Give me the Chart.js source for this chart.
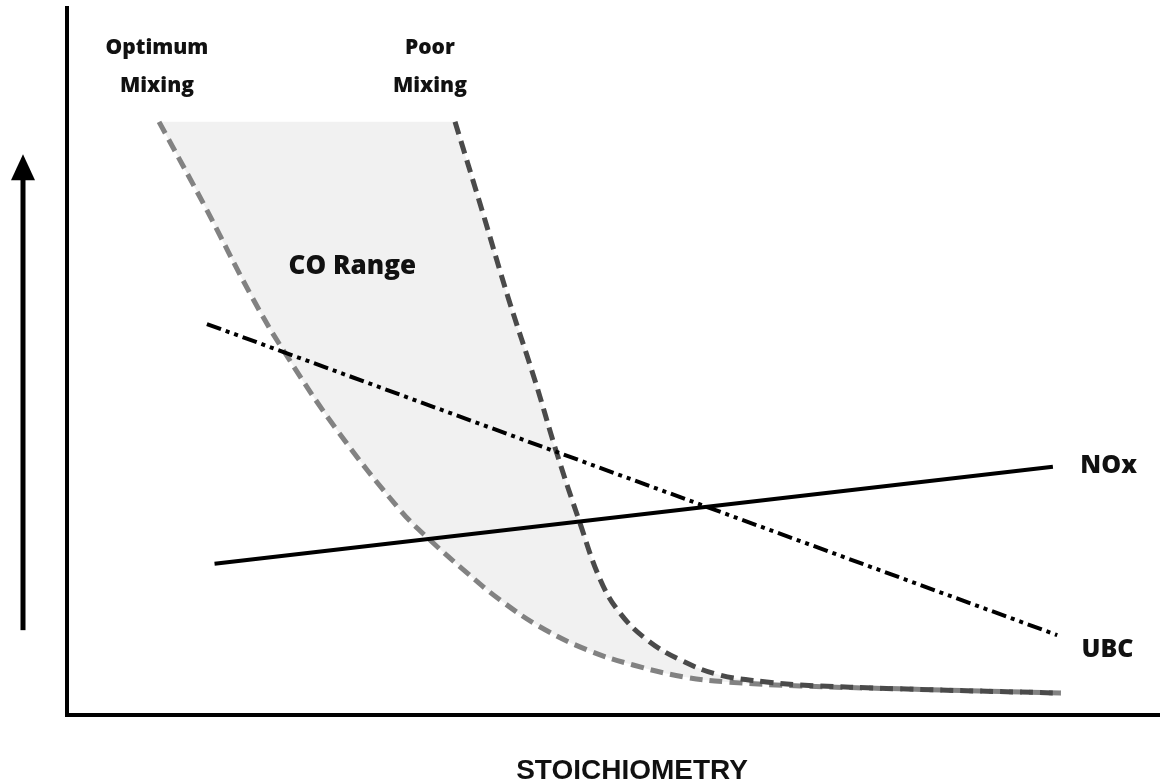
<!DOCTYPE html>
<html>
<head>
<meta charset="utf-8">
<script src="https://cdn.jsdelivr.net/npm/chart.js@4.4.1/dist/chart.umd.min.js"></script>
<style>
  html, body { margin: 0; padding: 0; background: #ffffff; }
  #wrap { width: 1160px; height: 782px; position: relative; }
</style>
</head>
<body>
<div id="wrap"><canvas id="chart"></canvas></div>
<script>
// Emission level (arbitrary units) against stoichiometry (arbitrary units)
const optimumX = [8.42, 12.63, 16.93, 19.95, 24.70, 30.47, 33.21, 36.6, 39.6, 43.3, 47.6, 51.8, 56.4, 60.4, 67.1, 76.2, 90.9];
const optimumY = [83.9, 71.9, 59.1, 51.2, 40.3, 29.0, 24.75, 20.1, 16.3, 12.45, 9.2, 7.07, 5.4, 4.67, 4.1, 3.7, 3.1];

const poorX = [35.5, 37.97, 40.35, 42.8, 44.8, 46.9, 48.8, 50.6, 53.1, 56.1, 59.7, 64.0, 67.1, 76.2, 90.9];
const poorY = [83.9, 71.4, 59.1, 47.4, 37.1, 27.3, 19.1, 14.4, 10.6, 7.8, 5.66, 4.67, 4.24, 3.7, 3.1];

const noxX = [13.5, 90.2];
const noxY = [21.4, 35.1];

const ubcX = [12.8, 90.6];
const ubcY = [55.3, 11.3];

const axisTitle = 'STOICHIOMETRY';

const toPoints = (xs, ys) => xs.map((x, i) => ({ x: x, y: ys[i] }));

// Closed outline of the CO band: down the optimum curve, back up the poor-mixing curve
const coBand = toPoints(optimumX, optimumY).concat(toPoints(poorX, poorY).reverse());

// Text placed in data coordinates
const chartLabels = [
  { lines: ['Optimum', 'Mixing'], x: 8.23, y: 91.65, size: 21 },
  { lines: ['Poor', 'Mixing'], x: 33.2, y: 91.65, size: 21 },
  { lines: ['CO Range'], x: 26.1, y: 63.4, size: 26 },
  { lines: ['NOx'], x: 95.3, y: 35.2, size: 25 },
  { lines: ['UBC'], x: 95.2, y: 9.2, size: 25 }
];

const labelPlugin = {
  id: 'curveLabels',
  afterDatasetsDraw(chart) {
    const { ctx, scales } = chart;
    ctx.save();
    ctx.fillStyle = '#111111';
    ctx.textAlign = 'center';
    ctx.textBaseline = 'middle';
    chartLabels.forEach(l => {
      ctx.font = `800 ${l.size}px "Open Sans", "Noto Sans", sans-serif`;
      const cx = scales.x.getPixelForValue(l.x);
      const cy = scales.y.getPixelForValue(l.y);
      const gap = l.size * 1.8;
      const start = cy - gap * (l.lines.length - 1) / 2;
      l.lines.forEach((t, i) => ctx.fillText(t, cx, start + i * gap));
    });
    ctx.restore();
  }
};

// Horizontal axis caption, centred a little right of the plot middle
const axisTitlePlugin = {
  id: 'axisCaption',
  afterDraw(chart) {
    const { ctx, scales } = chart;
    ctx.save();
    ctx.fillStyle = '#111111';
    ctx.font = 'bold 28px "Liberation Sans", Arial, sans-serif';
    ctx.textAlign = 'center';
    ctx.textBaseline = 'alphabetic';
    ctx.fillText(axisTitle, scales.x.getPixelForValue(51.7), scales.x.bottom - 3);
    ctx.restore();
  }
};

// Upward arrow beside the vertical axis
const arrowPlugin = {
  id: 'axisArrow',
  afterDraw(chart) {
    const { ctx, scales, chartArea } = chart;
    const x = chartArea.left - 44;
    const yBottom = scales.y.getPixelForValue(12);
    const yTip = scales.y.getPixelForValue(79.3);
    const headLen = 26, headHalf = 12;
    ctx.save();
    ctx.fillStyle = '#000000';
    ctx.fillRect(x - 2.5, yTip + headLen - 1, 5, yBottom - yTip - headLen + 1);
    ctx.beginPath();
    ctx.moveTo(x, yTip);
    ctx.lineTo(x + headHalf, yTip + headLen);
    ctx.lineTo(x - headHalf, yTip + headLen);
    ctx.closePath();
    ctx.fill();
    ctx.restore();
  }
};

new Chart(document.getElementById('chart'), {
  type: 'scatter',
  data: {
    datasets: [
      {
        label: 'NOx',
        data: toPoints(noxX, noxY),
        showLine: true,
        borderColor: '#000000',
        borderWidth: 4,
        pointRadius: 0,
        fill: false
      },
      {
        label: 'UBC',
        data: toPoints(ubcX, ubcY),
        showLine: true,
        borderColor: '#000000',
        borderWidth: 4,
        borderDash: [15, 5, 4, 5, 4, 5],
        pointRadius: 0,
        fill: false
      },
      {
        label: 'Poor Mixing',
        data: toPoints(poorX, poorY),
        showLine: true,
        borderColor: '#4a4a4a',
        borderWidth: 5,
        borderDash: [13, 7],
        tension: 0.4,
        pointRadius: 0,
        fill: false
      },
      {
        label: 'Optimum Mixing',
        data: toPoints(optimumX, optimumY),
        showLine: true,
        borderColor: '#828282',
        borderWidth: 5,
        borderDash: [13, 7],
        tension: 0.4,
        pointRadius: 0,
        fill: false
      },
      {
        label: 'CO Range',
        data: coBand,
        showLine: true,
        borderWidth: 0,
        borderColor: 'rgba(0,0,0,0)',
        backgroundColor: '#f1f1f1',
        tension: 0.4,
        pointRadius: 0,
        fill: 'shape'
      }
    ]
  },
  options: {
    responsive: true,
    maintainAspectRatio: false,
    animation: false,
    devicePixelRatio: 1,
    layout: { padding: { top: 8, right: 0, bottom: 0, left: 0 } },
    plugins: {
      legend: { display: false },
      tooltip: { enabled: false }
    },
    scales: {
      x: {
        type: 'linear',
        position: 'bottom',
        min: 0,
        max: 100,
        grid: { display: false },
        border: { display: true, color: '#000000', width: 4 },
        ticks: { display: false },
        afterFit(scale) { scale.height = 67; }
      },
      y: {
        type: 'linear',
        position: 'left',
        min: 0,
        max: 100,
        grid: { display: false },
        border: { display: true, color: '#000000', width: 4 },
        ticks: { display: false },
        afterFit(scale) { scale.width = 67; }
      }
    }
  },
  plugins: [labelPlugin, axisTitlePlugin, arrowPlugin]
});
</script>
</body>
</html>
